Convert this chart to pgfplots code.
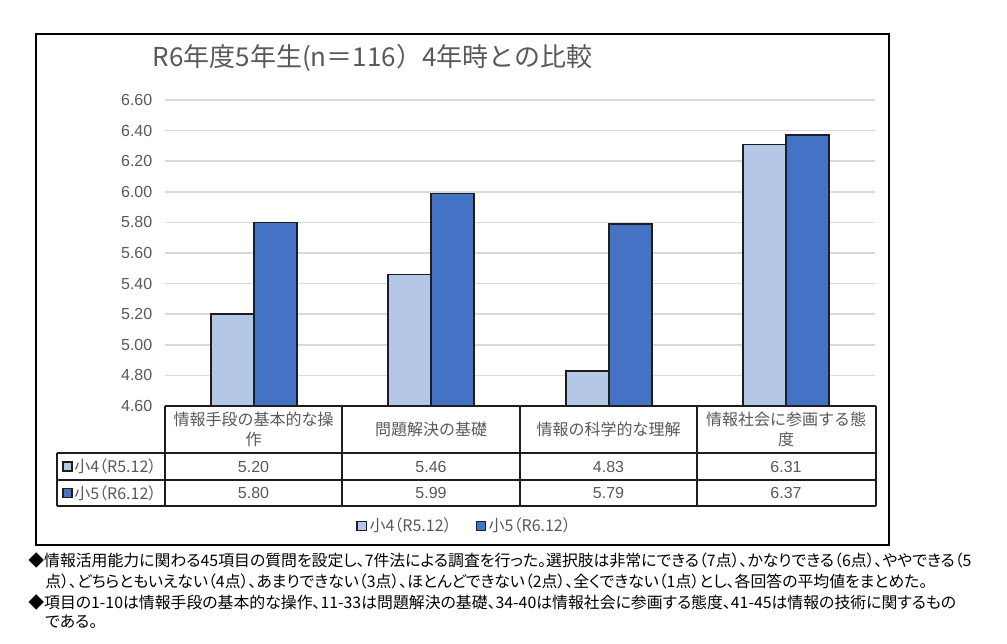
\documentclass[border=0pt]{standalone}
\usepackage{pgfplots}
\pgfplotsset{compat=1.18}
\usepackage{fontspec}
\setmainfont{Liberation Sans}
\newfontfamily\jp{Noto Sans CJK JP}
\newfontfamily\jpp[RawFeature=+palt]{Noto Sans CJK JP}

\definecolor{lightbar}{RGB}{180,199,231}
\definecolor{darkbar}{RGB}{68,114,196}
\definecolor{txtgray}{RGB}{89,89,89}
\definecolor{gridgray}{RGB}{217,217,217}
\definecolor{linegray}{RGB}{30,30,30}

\pgfplotsset{
  sqlegend/.style={legend image code/.code={%
      \draw[##1, line width=0.8pt] (0pt,-3.5pt) rectangle (7pt,3.5pt);}},
}

\begin{document}
\begin{tikzpicture}
% page in pixel units (1px = 0.75pt), y pointing down
\begin{scope}[x=0.75pt,y=-0.75pt]
  \fill[white] (0,0) rectangle (1007,643);
  \node[anchor=west, text=txtgray, font=\jp\fontsize{19.5pt}{22pt}\selectfont]
    at (148,58) {R6年度5年生(n＝116）4年時との比較};
\end{scope}

\begin{axis}[
    at={(165*0.75pt,-406*0.75pt)}, anchor=south west,
    scale only axis,
    width=532.5pt, height=229.5pt,
    xmin=0.5, xmax=4.5,
    ymin=4.6, ymax=6.6,
    ytick={4.6,4.8,5.0,5.2,5.4,5.6,5.8,6.0,6.2,6.4,6.6},
    xtick=\empty,
    ymajorgrids,
    grid style={gridgray, line width=1.1pt},
    axis line style={draw=none},
    major tick length=0pt,
    yticklabel style={text=txtgray, font=\fontsize{12pt}{14pt}\selectfont, xshift=-6pt},
    /pgf/number format/.cd, fixed, fixed zerofill, precision=2, assume math mode=true,
    /pgfplots/.cd,
    ybar=0pt, bar width=32.25pt,
    legend style={at={(0.4225,-0.392)}, anchor=center, draw=none, fill=none,
        legend columns=2, text=txtgray,
        font=\jpp\fontsize{12pt}{14pt}\selectfont,
        /tikz/every even column/.append style={column sep=16pt}},
]
\addplot[draw=linegray, line width=1.2pt, fill=lightbar, sqlegend]
    coordinates {(1,5.20) (2,5.46) (3,4.83) (4,6.31)};
\addlegendentry{小4（R5.12）}
\addplot[draw=linegray, line width=1.2pt, fill=darkbar, sqlegend]
    coordinates {(1,5.80) (2,5.99) (3,5.79) (4,6.37)};
\addlegendentry{小5（R6.12）}
\end{axis}

\begin{scope}[x=0.75pt,y=-0.75pt]
  % data table
  \draw[linegray, line width=1.1pt]
    (165,406) -- (876,406)
    (57,453) -- (876,453)
    (57,480) -- (876,480)
    (57,506) -- (876,506)
    (57,453) -- (57,506)
    (165,406) -- (165,506)
    (342,406) -- (342,506)
    (520,406) -- (520,506)
    (697,406) -- (697,506)
    (876,406) -- (876,506);
  \begin{scope}[every node/.style={text=txtgray, align=center,
      font=\jp\fontsize{12pt}{15.5pt}\selectfont}]
    \node at (253.5,429.5) {情報手段の基本的な操\\作};
    \node at (431,429.5) {問題解決の基礎};
    \node at (608.5,429.5) {情報の科学的な理解};
    \node at (786,429.5) {情報社会に参画する態\\度};
  \end{scope}
  \begin{scope}[every node/.style={text=txtgray,
      font=\fontsize{12pt}{14pt}\selectfont}]
    \node at (253.5,466.5) {5.20};
    \node at (431,466.5) {5.46};
    \node at (608.5,466.5) {4.83};
    \node at (786,466.5) {6.31};
    \node at (253.5,493) {5.80};
    \node at (431,493) {5.99};
    \node at (608.5,493) {5.79};
    \node at (786,493) {6.37};
  \end{scope}
  \draw[linegray, line width=0.8pt, fill=lightbar] (63,462) rectangle (72,471);
  \draw[linegray, line width=0.8pt, fill=darkbar] (63,488.5) rectangle (72,497.5);
  \node[anchor=west, inner sep=0pt, text=txtgray, font=\jpp\fontsize{12pt}{14pt}\selectfont]
    at (74,466.5) {小4（R5.12）};
  \node[anchor=west, inner sep=0pt, text=txtgray, font=\jpp\fontsize{12pt}{14pt}\selectfont]
    at (74,493) {小5（R6.12）};

  % outer frame
  \draw[black, line width=1.5pt] (36,34) rectangle (889,545);

  % notes
  \begin{scope}[every node/.style={anchor=west, inner sep=0pt, text=black,
      font=\jpp\fontsize{11.9pt}{14pt}\selectfont}]
    \node at (28,560) {◆情報活用能力に関わる45項目の質問を設定し、7件法による調査を行った。選択肢は非常にできる（7点）、かなりできる（6点）、ややできる（5};
    \node at (45,581) {点）、どちらともいえない（4点）、あまりできない（3点）、ほとんどできない（2点）、全くできない（1点）とし、各回答の平均値をまとめた。};
    \node at (28,602) {◆項目の1-10は情報手段の基本的な操作、11-33は問題解決の基礎、34-40は情報社会に参画する態度、41-45は情報の技術に関するもの};
    \node at (45,622) {である。};
  \end{scope}
\end{scope}
\pgfresetboundingbox
\path[use as bounding box] (0,0) rectangle (755.25pt,-482.25pt);
\end{tikzpicture}
\end{document}
